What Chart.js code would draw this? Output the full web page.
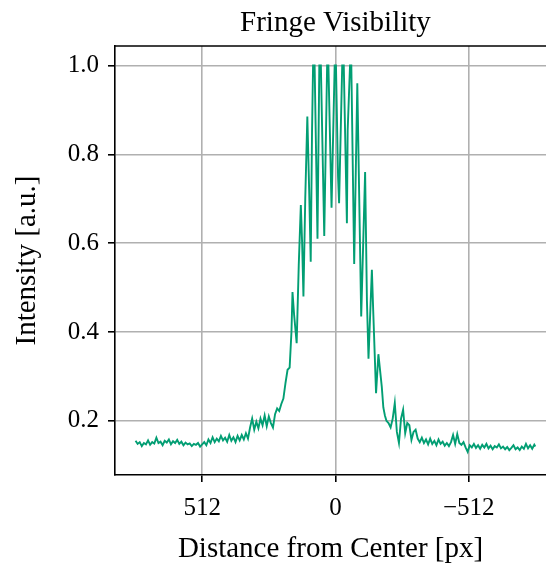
<!DOCTYPE html>
<html>
<head>
<script src="https://cdn.jsdelivr.net/npm/chart.js"></script>
<style>
  body { margin: 0; background: #fff; }
  #wrap { width: 546px; height: 567px; }
</style>
</head>
<body>
<div id="wrap"><canvas id="myChart"></canvas></div>
<script>
// distance from center [px] and measured intensity [a.u.]
const distance = [
  768, 760, 752, 744, 736, 728, 720, 712, 704, 696, 688, 680, 672, 664, 656, 648, 640, 632, 624, 616,
  608, 600, 592, 584, 576, 568, 560, 552, 544, 536, 528, 520, 512, 504, 496, 488, 480, 472, 464, 456,
  448, 440, 432, 424, 416, 408, 400, 392, 384, 376, 368, 360, 352, 344, 336, 328, 320, 312, 304, 296,
  288, 280, 272, 264, 256, 248, 240, 232, 224, 216, 208, 200, 192, 184, 176,
  169, 165, 159, 149, 141, 133, 128, 123, 116, 108, 101, 95, 90, 86, 80, 69, 62, 56, 43, 32, 27, 15,
  3, -2, -10, -14, -26, -32, -44, -47, -56, -61, -72, -84, -99, -114, -121, -127, -140, -145, -156,
  -165, -178,
  -184, -190, -196, -204, -212, -220, -228, -236, -244, -252, -260, -268, -276, -284, -292, -300,
  -308, -316, -324, -332, -340, -348, -356, -364, -372, -380, -388, -396, -404, -412, -420, -428,
  -436, -444, -452, -460, -468, -476, -484, -492, -500, -508, -516, -524, -532, -540, -548, -556,
  -564, -572, -580, -588, -596, -604, -612, -620, -628, -636, -644, -652, -660, -668, -676, -684,
  -692, -700, -708, -716, -724, -732, -740, -748, -756, -764, -768
];
const intensity = [
  0.155, 0.148, 0.152, 0.143, 0.150, 0.147, 0.156, 0.146, 0.152, 0.149, 0.162, 0.150, 0.153, 0.145, 0.155, 0.151, 0.158, 0.147, 0.154, 0.150,
  0.157, 0.148, 0.153, 0.145, 0.151, 0.147, 0.149, 0.143, 0.148, 0.146, 0.150, 0.142, 0.147, 0.152, 0.145, 0.158, 0.150, 0.163, 0.152, 0.160,
  0.154, 0.166, 0.156, 0.162, 0.153, 0.168, 0.155, 0.163, 0.152, 0.166, 0.156, 0.168, 0.158, 0.172, 0.160, 0.185, 0.205, 0.180, 0.198, 0.183,
  0.205, 0.190, 0.212, 0.188, 0.210, 0.195, 0.185, 0.215, 0.228, 0.222, 0.238, 0.250, 0.285, 0.315, 0.320,
  0.400, 0.490, 0.440, 0.375, 0.550, 0.686, 0.600, 0.480, 0.700, 0.885, 0.720, 0.558, 0.850, 1.000, 1.000, 0.610, 1.000, 1.000, 0.616, 1.000, 1.000, 0.680,
  1.000, 1.000, 0.750, 0.690, 1.000, 1.000, 0.645, 0.855, 1.000, 1.000, 0.553, 0.960, 0.435, 0.760, 0.470, 0.340, 0.540, 0.450, 0.262,
  0.350, 0.277,
  0.230, 0.212, 0.200, 0.195, 0.185, 0.205, 0.240, 0.175, 0.150, 0.205, 0.225, 0.172, 0.195, 0.190, 0.157, 0.175,
  0.180, 0.160, 0.152, 0.162, 0.150, 0.158, 0.147, 0.160, 0.148, 0.155, 0.145, 0.158, 0.148, 0.153, 0.144, 0.150,
  0.143, 0.152, 0.168, 0.148, 0.170, 0.150, 0.146, 0.152, 0.140, 0.130, 0.145, 0.140, 0.148, 0.139, 0.145, 0.137,
  0.146, 0.140, 0.148, 0.138, 0.144, 0.136, 0.143, 0.140, 0.147, 0.138, 0.142, 0.136, 0.141, 0.134, 0.139, 0.145,
  0.136, 0.140, 0.134, 0.142, 0.137, 0.148, 0.138, 0.145, 0.137, 0.146, 0.142
];
const xTicks = [512, 0, -512];
const yTicks = [0.2, 0.4, 0.6, 0.8, 1.0];

const lineColor = '#029e73';
const gridColor = '#b0b0b0';

Chart.defaults.font.family = 'Liberation Serif';
Chart.defaults.color = '#000';

const frame = {
  id: 'frame',
  afterDraw(chart) {
    const { ctx, chartArea } = chart;
    ctx.save();
    ctx.strokeStyle = '#000';
    ctx.lineWidth = 1.6;
    ctx.beginPath();
    ctx.moveTo(chartArea.left - 0.8, chartArea.top);
    ctx.lineTo(chartArea.right, chartArea.top);
    ctx.stroke();
    // title centred over the full axes
    ctx.fillStyle = '#000';
    ctx.font = '29px "Liberation Serif"';
    ctx.textAlign = 'center';
    ctx.textBaseline = 'alphabetic';
    ctx.fillText('Fringe Visibility', chart.scales.x.getPixelForValue(0), 31);
    ctx.restore();
  }
};

new Chart(document.getElementById('myChart').getContext('2d'), {
  type: 'line',
  data: {
    datasets: [{
      data: distance.map((d, i) => ({ x: d, y: intensity[i] })),
      borderColor: lineColor,
      borderWidth: 1.9,
      pointRadius: 0,
      tension: 0,
      fill: false
    }]
  },
  options: {
    responsive: true,
    maintainAspectRatio: false,
    animation: false,
    layout: { padding: { top: 46, right: 0, left: 0, bottom: 0 } },
    plugins: { legend: { display: false }, tooltip: { enabled: false } },
    scales: {
      x: {
        type: 'linear',
        reverse: true,
        min: -809,
        max: 847,
        afterBuildTicks: s => { s.ticks = xTicks.map(v => ({ value: v })); },
        afterFit: s => { s.height = 92; },
        ticks: {
          font: { size: 25 },
          padding: 11,
          maxRotation: 0,
          callback: v => (v < 0 ? '\u2212' + Math.abs(v) : String(v))
        },
        grid: { color: gridColor, lineWidth: 1.6, tickColor: '#000', tickLength: 7 },
        border: { color: '#000', width: 1.6 },
        title: { display: true, text: 'Distance from Center [px]', font: { size: 29 }, padding: { top: 2, bottom: 0 } }
      },
      y: {
        min: 0.078,
        max: 1.044,
        afterBuildTicks: s => { s.ticks = yTicks.map(v => ({ value: v })); },
        afterFit: s => { s.width = 115; },
        ticks: {
          font: { size: 25 },
          padding: 9,
          callback: v => v.toFixed(1)
        },
        grid: { color: gridColor, lineWidth: 1.6, tickColor: '#000', tickLength: 7 },
        border: { color: '#000', width: 1.6 },
        title: { display: true, text: 'Intensity [a.u.]', font: { size: 29 }, padding: { top: 10, bottom: 4 } }
      }
    }
  },
  plugins: [frame]
});
</script>
</body>
</html>
